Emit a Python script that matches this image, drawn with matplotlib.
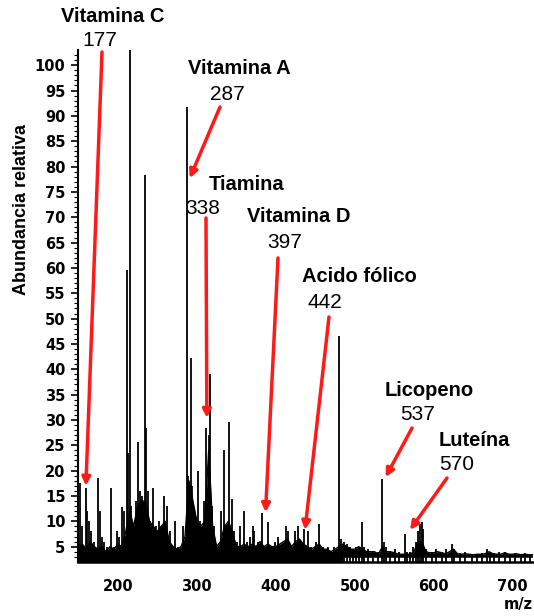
#!/usr/bin/env python3

# Espectro de masas - abundancia relativa vs m/z

import matplotlib as mpl
mpl.use("Agg")

import matplotlib.pyplot as plt  # noqa
import numpy as np               # noqa

# picos (m/z, abundancia relativa)
peak_mz = [152, 155, 159.5, 161, 163, 166, 170, 175, 177, 180, 183, 186, 191, 195, 199,
           202, 205, 208, 211, 213, 215, 217, 220, 223, 225, 228, 230, 232, 234, 236,
           238, 241, 245, 248, 252, 255, 259, 262, 266, 272, 276, 282, 287, 289, 292,
           294, 297, 301, 304, 307, 309, 312, 315, 317, 319, 322, 326, 331, 334, 337,
           341, 344, 347, 351, 355, 360, 363, 367, 371, 373, 378, 382, 386, 390, 395,
           399, 403, 408, 413, 416, 420, 424, 428, 432, 436, 441, 445, 451, 455, 460,
           466, 470, 474, 480, 483, 487, 490, 494, 498, 502, 506, 509, 512, 517, 523,
           530, 535, 537, 540, 545, 551, 556, 563, 566, 570, 574, 577, 580, 582, 585,
           587, 590, 598, 603, 610, 616, 623, 626, 633, 640, 648, 655, 661, 667, 671,
           676, 683, 690, 696, 703, 710, 716, 722]
peak_int = [17.5, 9, 16.6, 12, 10, 8, 6, 18.5, 12, 7, 6, 5, 16.6, 5, 8,
            7, 12.8, 12, 59.6, 23.5, 104, 13, 9, 14, 25.7, 16, 15, 13, 78.3, 28.4,
            16, 10, 16.6, 9, 10, 9, 15, 13, 8, 10, 5, 9, 91.7, 19, 42.2,
            17, 12, 20, 10, 7, 14, 28.5, 27, 39, 13, 9, 5, 12, 24, 9,
            29.6, 14.5, 8, 6, 9, 12, 6, 7, 9, 8, 6, 11.6, 5, 9.9, 5,
            6, 7, 5, 9, 8, 5, 8, 9, 6, 8.5, 8, 5, 6, 9.5, 5,
            5, 4, 5, 46.5, 6.5, 6, 5.5, 5, 4.5, 5, 5, 9.9, 5, 4.5, 4,
            4, 18.3, 6, 5, 4, 4.5, 4, 7.5, 4, 4, 5, 6, 8, 9.5, 9.9,
            8.5, 4.5, 4, 4.5, 4, 4.5, 5.5, 4.5, 3.8, 4, 3.5, 3.5, 3.8, 4.5, 4,
            3.8, 4, 4, 3.6, 3.8, 3.5, 3.8, 3.5]

# ruido de fondo (cada 5 m/z)
base_mz = list(range(150, 730, 5))
base_int = [5, 5.5, 4.5, 6, 5, 4.5, 5, 4, 5, 4.5, 5.5,
            5, 8, 12, 9, 13, 14, 14, 10, 9, 8, 9, 10,
            6, 5, 4.5, 5,
            7, 18, 14, 10,
            9, 10, 24, 9, 5,
            6, 9, 10, 8, 5, 5, 5.5,
            5, 5.5, 5, 6, 5, 5.5, 5, 5, 5.5, 6, 6.5, 5, 6, 6.5, 5.5, 5, 4.5, 5, 5.5,
            4.5, 4.5, 4, 4.5, 5,
            5.5, 5, 4.5, 4.5, 5, 4.5, 4, 4, 4, 3.5, 5, 4, 4, 3.8, 3.5, 3.5, 3.5,
            3.5, 4, 6, 6, 4, 3.8, 3.8, 4, 3.8, 3.6, 4, 4.5, 3.6, 3.5, 3.6, 3.5,
            3.4, 3.5, 3.5, 3.6, 4, 3.6, 3.5, 3.5, 3.8, 3.5, 3.5, 3.6, 3.4, 3.5,
            3.4, 3.4]

# anotaciones: compuesto, m/z nominal, punta de la flecha (m/z, abundancia)
names   = ['Vitamina C', 'Vitamina A', 'Tiamina', 'Vitamina D', 'Acido fólico', 'Licopeno', 'Luteína']
numbers = ['177', '287', '338', '397', '442', '537', '570']
tip_mz  = [159.5, 291, 312.7, 387, 437, 539, 570]
tip_int = [17, 77.7, 30.4, 11.8, 8.3, 18.7, 8.3]

# posiciones de texto en pixeles (x, y desde arriba-izquierda)
name_px  = [(113, 17), (239, 69), (247, 185), (299, 217), (359, 276), (429, 390), (474, 440)]
num_px   = [(100, 40), (227, 95), (203, 208), (285, 243), (325, 302), (418, 415), (457, 465)]
start_px = [(102, 52), (220, 107), (206, 218), (278, 258), (329, 317), (412, 428), (447, 478)]

W, H = 534, 616


def fpx(p):
  return (p[0] / W, 1 - p[1] / H)


fig = plt.figure(figsize=(W / 100, H / 100), dpi=100)
ax = fig.add_axes([78 / W, 54 / H, 1 - 78 / W, 512 / H])

YLO, YHI = 1.97, 103
ax.set_xlim(149.5, 727)
ax.set_ylim(YLO, YHI)

bm = np.array(base_mz)
bi = np.array(base_int)
# zona densa (izquierda) negra hasta el eje, zona derecha con hueco sobre el eje
ax.fill_between(bm, YLO, bi, where=bm <= 485, color='black', lw=0)
ax.fill_between(bm, 2.9, bi, where=bm >= 485, color='black', lw=0)
ax.plot(bm, bi, color='black', lw=1)
ax.vlines(peak_mz, YLO, peak_int, color='black', lw=1.3)

for s in ['top', 'right']:
  ax.spines[s].set_visible(False)
ax.spines['left'].set_linewidth(1.5)
ax.spines['bottom'].set_linewidth(1.8)

ax.set_yticks(np.arange(5, 101, 5))
ax.set_yticks(np.arange(3, 103, 1), minor=True)
ax.set_xticks([200, 300, 400, 500, 600, 700])
ax.tick_params(axis='y', which='major', length=5, width=1.2, pad=4, labelsize=10.5)
ax.tick_params(axis='y', which='minor', length=3, width=0.8)
ax.tick_params(axis='x', which='major', length=0, pad=12, labelsize=10.5)
for lab in ax.get_xticklabels() + ax.get_yticklabels():
  lab.set_fontweight('bold')

fig.text(22 / W, 1 - 210 / H, 'Abundancia relativa', rotation=90, ha='center', va='center',
         fontsize=13, fontweight='bold', family='Liberation Sans')
fig.text(518 / W, 1 - 604 / H, 'm/z', ha='center', va='center', fontsize=10.5, fontweight='bold')

for i in range(len(names)):
  fx, fy = fpx(name_px[i])
  fig.text(fx, fy, names[i], ha='center', va='center', fontsize=14.5, fontweight='bold',
           family='Liberation Sans')
  fx, fy = fpx(num_px[i])
  fig.text(fx, fy, numbers[i], ha='center', va='center', fontsize=15, family='Liberation Sans')
  ax.annotate('', xy=(tip_mz[i], tip_int[i]), xycoords='data',
              xytext=fpx(start_px[i]), textcoords='figure fraction',
              arrowprops=dict(arrowstyle='-|>', color='#ff1a1a', lw=2.5,
                              mutation_scale=12, shrinkA=0, shrinkB=0),
              annotation_clip=False)

plt.savefig('out.png', dpi=100)
